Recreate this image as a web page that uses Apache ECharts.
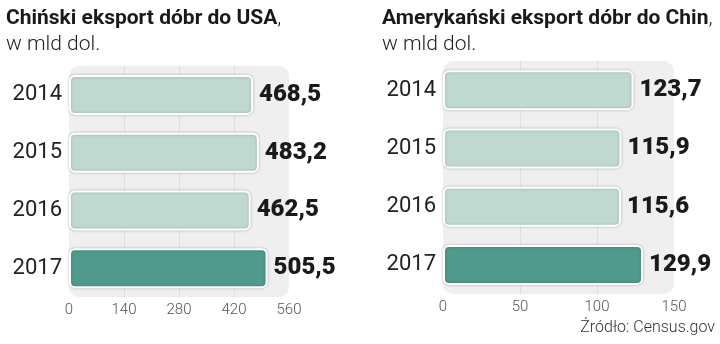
<!DOCTYPE html>
<html>
<head>
<meta charset="utf-8">
<script src="https://cdn.jsdelivr.net/npm/echarts@6/dist/echarts.min.js"></script>
<style>
  html, body { margin: 0; padding: 0; background: #fff; }
  #chart { width: 720px; height: 344px; }
</style>
</head>
<body>
<div id="chart"></div>
<script>
// Trade in goods between China and the USA, billions of dollars
const years = ['2014', '2015', '2016', '2017'];
const chinaToUsa = [468.5, 483.2, 462.5, 505.5];
const usaToChina = [123.7, 115.9, 115.6, 129.9];
const leftTicks = [0, 140, 280, 420, 560];
const rightTicks = [0, 50, 100, 150];

const LIGHT = '#bfd9d1';
const DARK = '#4f9a8c';
const PANEL = '#efefef';

const fmt = v => v.toFixed(1).replace('.', ',');

const grids = [
  { left: 69, top: 66, width: 220, height: 231 },
  { left: 443, top: 61, width: 231, height: 233 }
];

function valueAxis(gridIndex, ticks) {
  return {
    type: 'value',
    gridIndex,
    min: ticks[0],
    max: ticks[ticks.length - 1],
    interval: ticks[1] - ticks[0],
    axisLine: { show: false },
    axisTick: { show: false },
    axisLabel: {
      margin: 6,
      fontFamily: 'Roboto',
      fontWeight: 300,
      fontSize: 15,
      color: '#555'
    },
    splitLine: {
      show: true,
      showMinLine: false,
      showMaxLine: false,
      lineStyle: { color: '#dedede', width: 1 }
    }
  };
}

function categoryAxis(gridIndex) {
  return {
    type: 'category',
    gridIndex,
    data: years,
    inverse: true,
    axisLine: { show: false },
    axisTick: { show: false },
    axisLabel: {
      margin: 7,
      fontFamily: 'Roboto',
      fontSize: 22,
      color: '#222'
    }
  };
}

function barSeries(idx, values) {
  return {
    type: 'bar',
    xAxisIndex: idx,
    yAxisIndex: idx,
    data: values,
    barWidth: 40,
    itemStyle: {
      color: p => (p.dataIndex === values.length - 1 ? DARK : LIGHT),
      borderColor: '#fff',
      borderWidth: 2,
      borderRadius: 5,
      shadowColor: 'rgba(0,0,0,0.22)',
      shadowBlur: 3
    },
    label: {
      show: true,
      position: 'right',
      distance: 6,
      formatter: p => fmt(p.value),
      fontFamily: 'Roboto',
      fontWeight: 900,
      fontSize: 24,
      color: '#1a1a1a'
    },
    emphasis: { disabled: true }
  };
}

const panels = grids.map(g => ({
  type: 'rect',
  z: -10,
  shape: { x: g.left, y: g.top, width: g.width, height: g.height, r: 10 },
  style: { fill: PANEL }
}));

const titleRich = {
  b: { fontFamily: 'Roboto', fontWeight: 'bold', fontSize: 21, color: '#1a1a1a', lineHeight: 26 },
  r: { fontFamily: 'Roboto', fontWeight: 300, fontSize: 21, color: '#222', lineHeight: 26 }
};

const chart = echarts.init(document.getElementById('chart'));
chart.setOption({
  backgroundColor: '#fff',
  animation: false,
  grid: grids.map(g => Object.assign({ containLabel: false }, g)),
  xAxis: [valueAxis(0, leftTicks), valueAxis(1, rightTicks)],
  yAxis: [categoryAxis(0), categoryAxis(1)],
  series: [barSeries(0, chinaToUsa), barSeries(1, usaToChina)],
  title: [
    {
      left: 1, top: 1,
      text: '{b|Chiński eksport dóbr do USA}{r|,}\n{r|w mld dol.}',
      textStyle: { rich: titleRich }
    },
    {
      left: 377, top: 1,
      text: '{b|Amerykański eksport dóbr do Chin}{r|,}\n{r|w mld dol.}',
      textStyle: { rich: titleRich }
    },
    {
      right: 0, bottom: 3,
      text: 'Źródło: Census.gov',
      textStyle: { fontFamily: 'Roboto', fontWeight: 300, fontSize: 16, color: '#333' }
    }
  ],
  graphic: panels
});
</script>
</body>
</html>
